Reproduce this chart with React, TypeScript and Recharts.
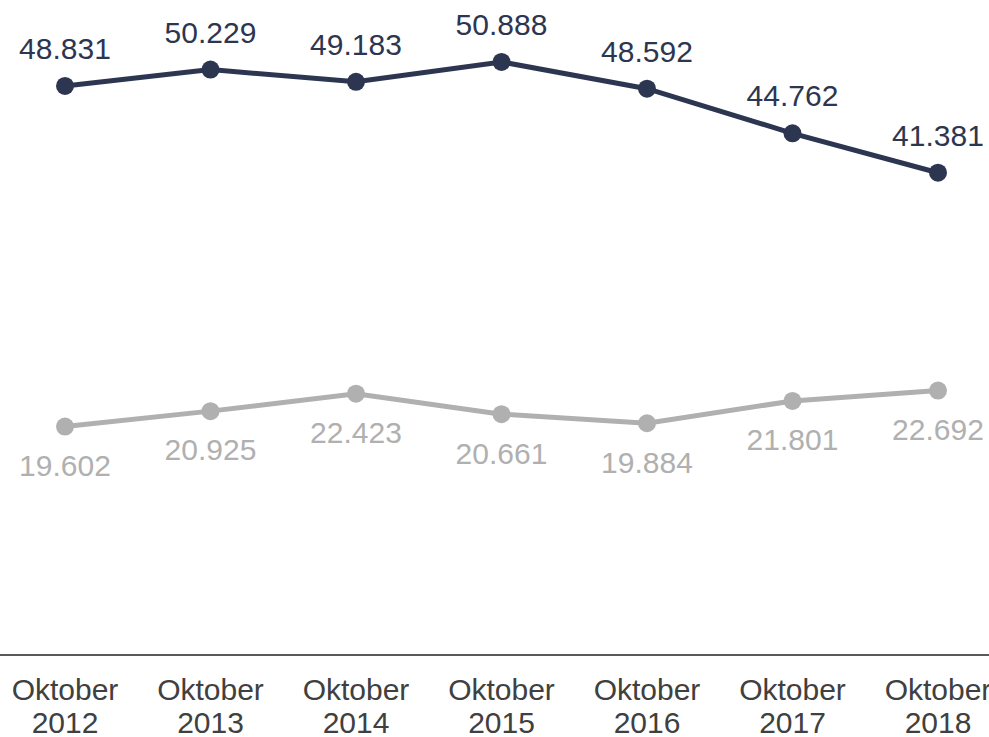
import React from 'react';
import { LineChart, Line, XAxis, YAxis, LabelList } from 'recharts';

const monthLabel = 'Oktober';
const years = ['2012', '2013', '2014', '2015', '2016', '2017', '2018'];
const seriesDark = [48.831, 50.229, 49.183, 50.888, 48.592, 44.762, 41.381];
const seriesGray = [19.602, 20.925, 22.423, 20.661, 19.884, 21.801, 22.692];

const DARK = '#2d3650';
const GRAY = '#b0b0b0';
const AXIS_TEXT = '#404040';
const FONT = '"Liberation Sans", Arial, sans-serif';

const data = years.map((y, i) => ({
  category: `${monthLabel} ${y}`,
  dark: seriesDark[i],
  gray: seriesGray[i],
}));

const fmt = (v: any) => Number(v).toFixed(3);

const Tick = (props: any) => {
  const { x, y, payload } = props;
  const [m, yr] = String(payload.value).split(' ');
  return (
    <text x={x} y={y} textAnchor="middle" fill={AXIS_TEXT} fontSize={30} fontFamily={FONT}>
      <tspan x={x} dy={45}>{m}</tspan>
      <tspan x={x} dy={33}>{yr}</tspan>
    </text>
  );
};

export default function App() {
  return (
    <div style={{ position: 'absolute', left: 0, top: 0, width: 989, height: 737, overflow: 'hidden', background: '#fff' }}>
      <LineChart
        width={989}
        height={737}
        data={data}
        margin={{ top: 14, right: 0, bottom: 0, left: 0 }}
        style={{ fontFamily: FONT }}
      >
        <XAxis
          dataKey="category"
          axisLine={{ stroke: '#595959', strokeWidth: 2 }}
          tickLine={false}
          tickSize={0}
          tickMargin={0}
          interval={0}
          height={82}
          padding={{ left: 65, right: 51 }}
          tick={<Tick />}
        />
        <YAxis hide domain={[0, 55]} />
        <Line
          dataKey="gray"
          stroke={GRAY}
          strokeWidth={5}
          dot={{ r: 9, fill: GRAY, stroke: 'none', strokeWidth: 0 }}
          activeDot={false}
          isAnimationActive={false}
        >
          <LabelList
            dataKey="gray"
            position="bottom"
            offset={28}
            formatter={fmt}
            fill={GRAY}
            fontSize={30}
            fontFamily={FONT}
          />
        </Line>
        <Line
          dataKey="dark"
          stroke={DARK}
          strokeWidth={5}
          dot={{ r: 9, fill: DARK, stroke: 'none', strokeWidth: 0 }}
          activeDot={false}
          isAnimationActive={false}
        >
          <LabelList
            dataKey="dark"
            position="top"
            offset={27}
            formatter={fmt}
            fill={DARK}
            fontSize={30}
            fontFamily={FONT}
          />
        </Line>
      </LineChart>
    </div>
  );
}
